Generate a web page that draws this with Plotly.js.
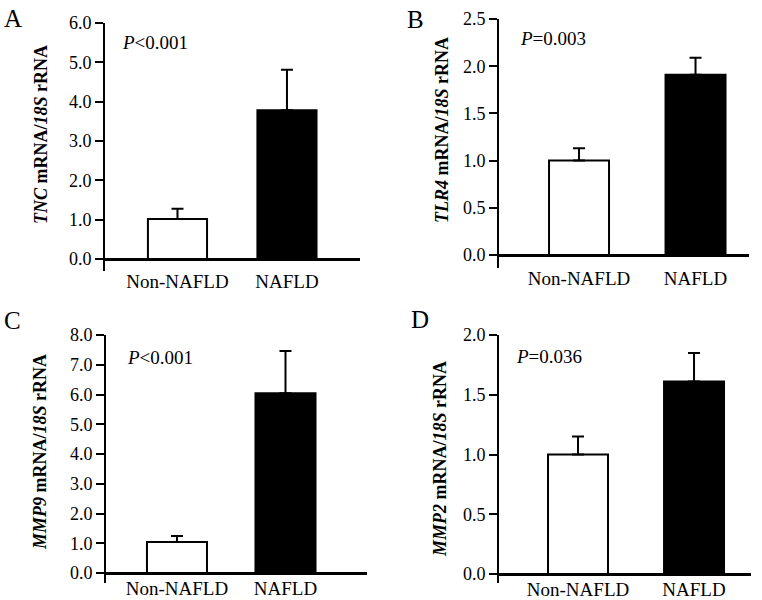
<!DOCTYPE html>
<html>
<head>
<meta charset="utf-8">
<script src="https://cdn.plot.ly/plotly-3.0.1.min.js"></script>
<style>html,body{margin:0;padding:0;background:#fff;}#chart{width:762px;height:600px;}</style>
</head>
<body>
<div id="chart"></div>
<script>
// ---- data ----
const categories = ['Non-NAFLD', 'NAFLD'];
const tncValues = [1.02, 3.78];
const tncErrors = [0.26, 1.03];
const tlr4Values = [1.0, 1.91];
const tlr4Errors = [0.13, 0.18];
const mmp9Values = [1.04, 6.04];
const mmp9Errors = [0.20, 1.42];
const mmp2Values = [1.0, 1.61];
const mmp2Errors = [0.15, 0.24];
const genes = ['TNC', 'TLR4', 'MMP9', 'MMP2'];
const pLabels = ['<0.001', '=0.003', '<0.001', '=0.036'];
const panelLetters = ['A', 'B', 'C', 'D'];
const yTickStep = [1, 0.5, 1, 0.5];

const W = 762, H = 600;
const px = v => v / W;
const py = v => 1 - v / H;
const FONT = 'Liberation Serif, Times New Roman, serif';

const values = [tncValues, tlr4Values, mmp9Values, mmp2Values];
const errors = [tncErrors, tlr4Errors, mmp9Errors, mmp2Errors];

// panel geometry (pixels)
const panels = [
  {x0: 105, x1: 360, yTop: 23, yBot: 271, labOff: 4, xr: [-0.662, 1.667], yr: [-0.305, 6.0], bw: 0.54,
   title: {x: 41, y: 135}, letter: {x: 2, y: 3}, p: {x: 120, y: 43}},
  {x0: 499, x1: 749, yTop: 19, yBot: 268, labOff: 5, xr: [-0.687, 1.459], yr: [-0.138, 2.5], bw: 0.515,
   title: {x: 442, y: 130}, letter: {x: 405, y: 4}, p: {x: 518, y: 38}},
  {x0: 106, x1: 367, yTop: 335, yBot: 583, labOff: -3, xr: [-0.654, 1.751], yr: [-0.336, 8.0], bw: 0.553,
   title: {x: 40, y: 452}, letter: {x: 2, y: 305}, p: {x: 125, y: 357}},
  {x0: 499, x1: 751, yTop: 335, yBot: 583, labOff: -3, xr: [-0.681, 1.491], yr: [-0.075, 2.0], bw: 0.517,
   title: {x: 440, y: 459}, letter: {x: 409, y: 304}, p: {x: 514, y: 356}}
];

const traces = [];
const layout = {
  width: W, height: H,
  margin: {l: 0, r: 0, t: 0, b: 0},
  paper_bgcolor: '#fff', plot_bgcolor: '#fff',
  showlegend: false,
  font: {family: FONT, color: '#000', size: 18},
  annotations: []
};

panels.forEach((p, i) => {
  const n = i + 1;
  const xa = n === 1 ? 'x' : 'x' + n;
  const ya = n === 1 ? 'y' : 'y' + n;
  const dom = [py(p.yBot), py(p.yTop)];
  // paper position of value 0 on this panel's y scale (baseline / x axis line)
  const zeroPos = dom[0] + (0 - p.yr[0]) / (p.yr[1] - p.yr[0]) * (dom[1] - dom[0]);
  traces.push({
    type: 'bar',
    x: categories,
    y: values[i],
    xaxis: xa, yaxis: ya,
    width: p.bw,
    marker: {color: ['#ffffff', '#000000'], line: {color: '#000', width: 2}},
    error_y: {type: 'data', symmetric: false, array: errors[i], arrayminus: [0, 0],
              color: '#000', thickness: 2, width: 6},
    hoverinfo: 'none'
  });
  layout['xaxis' + (n === 1 ? '' : n)] = {
    domain: [px(p.x0), px(p.x1)],
    anchor: 'free',
    position: zeroPos,
    type: 'category',
    range: p.xr,
    showline: true, linecolor: '#000000', linewidth: 3,
    showgrid: false, zeroline: false,
    ticks: '',
    ticklabelstandoff: p.labOff,
    tickfont: {family: FONT, size: 19, color: '#000'},
    fixedrange: true
  };
  layout['yaxis' + (n === 1 ? '' : n)] = {
    domain: dom,
    anchor: xa,
    range: p.yr,
    showline: true, linecolor: '#000', linewidth: 2,
    showgrid: false,
    zeroline: false,
    ticks: 'outside', ticklen: 8, tickwidth: 2, tickcolor: '#000',
    tick0: 0, dtick: yTickStep[i], tickformat: '.1f',
    tickfont: {family: FONT, size: 18, color: '#000'},
    fixedrange: true
  };
  // y title
  layout.annotations.push({
    xref: 'paper', yref: 'paper', x: px(p.title.x), y: py(p.title.y),
    xanchor: 'center', yanchor: 'middle', textangle: -90, showarrow: false,
    text: '<b><i>' + genes[i] + '</i> mRNA/<i>18S</i> rRNA</b>',
    font: {family: FONT, size: 18, color: '#000'}
  });
  // panel letter
  layout.annotations.push({
    xref: 'paper', yref: 'paper', x: px(p.letter.x), y: py(p.letter.y),
    xanchor: 'left', yanchor: 'top', showarrow: false,
    text: panelLetters[i],
    font: {family: FONT, size: 25, color: '#000'}
  });
  // p value
  layout.annotations.push({
    xref: 'paper', yref: 'paper', x: px(p.p.x), y: py(p.p.y),
    xanchor: 'left', yanchor: 'middle', showarrow: false,
    text: '<i>P</i>' + pLabels[i].replace('<', '&lt;'),
    font: {family: FONT, size: 19, color: '#000'}
  });
});

Plotly.newPlot('chart', traces, layout, {displayModeBar: false, staticPlot: true});
</script>
</body>
</html>
